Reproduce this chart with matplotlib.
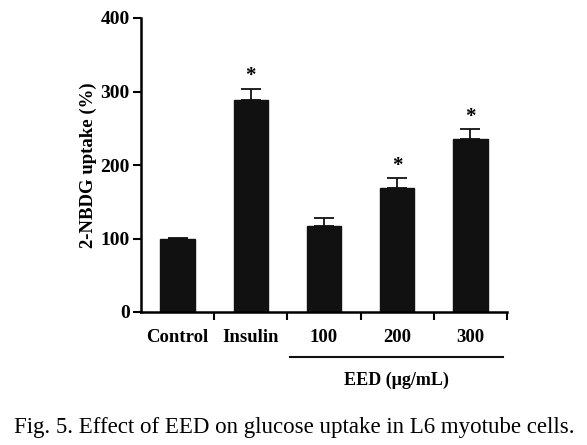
import matplotlib
matplotlib.use("Agg")
import matplotlib.pyplot as plt
import numpy as np

categories = ["Control", "Insulin", "100", "200", "300"]
values = [100, 288, 117, 169, 236]
errors = [1, 16, 11, 13, 13]
significant = [False, True, False, True, True]
yticks = [0, 100, 200, 300, 400]

serif = ["Liberation Serif", "DejaVu Serif"]
plt.rcParams["font.family"] = serif

fig = plt.figure(figsize=(5.87, 4.45), dpi=100)
ax_left, ax_w = 141/587, (507-141)/587
ax = fig.add_axes([ax_left, 1-312/445, ax_w, (312-18)/445])

x = np.arange(len(categories))
ax.bar(x, values, width=0.47, color="#111111", edgecolor="#111111", zorder=2)
ax.errorbar(x, values, yerr=[np.zeros(len(errors)), errors], fmt="none",
            ecolor="#111111", elinewidth=1.3, capsize=7, capthick=1.3, zorder=1)
for xi, v, e, s in zip(x, values, errors, significant):
    if s:
        ax.text(xi, v + e + 3, "*", ha="center", va="bottom", fontsize=15,
                fontweight="bold")

ax.set_xlim(-0.5, 4.5)
ax.set_ylim(0, 400)
ax.set_yticks(yticks)
ax.set_yticklabels([str(t) for t in yticks], fontsize=14, fontweight="bold")
ax.set_xticks(np.arange(0.5, 5, 1.0))
ax.set_xticklabels([])
for xi, c in zip(x, categories):
    ax.text(xi, -35, c, ha="center", va="center", fontsize=13.5,
            fontweight="bold", transform=ax.transData, clip_on=False)
ax.tick_params(axis="both", direction="out", length=6, width=1.5, pad=2)
ax.spines["top"].set_visible(False)
ax.spines["right"].set_visible(False)
ax.spines["left"].set_linewidth(1.8)
ax.spines["bottom"].set_linewidth(1.8)
ax.set_ylabel("2-NBDG uptake (%)", fontsize=13.5, fontweight="bold")
ax.yaxis.set_label_coords((88 - 141) / 366, (312 - 165) / 294)
ax.yaxis.label.set_va("center")

# bracket line under concentrations
fig.add_artist(plt.Line2D([290/587, 503/587], [1-357/445, 1-357/445],
                          color="#111111", lw=1.5))
fig.text(396/587, 1-380/445, "EED (μg/mL)", ha="center", va="center",
         fontsize=13, fontweight="bold")

fig.text(294/587, 1-427/445, "Fig. 5. Effect of EED on glucose uptake in L6 myotube cells.",
         ha="center", va="center", fontsize=16.5)

fig.savefig("out.png", dpi=100)
